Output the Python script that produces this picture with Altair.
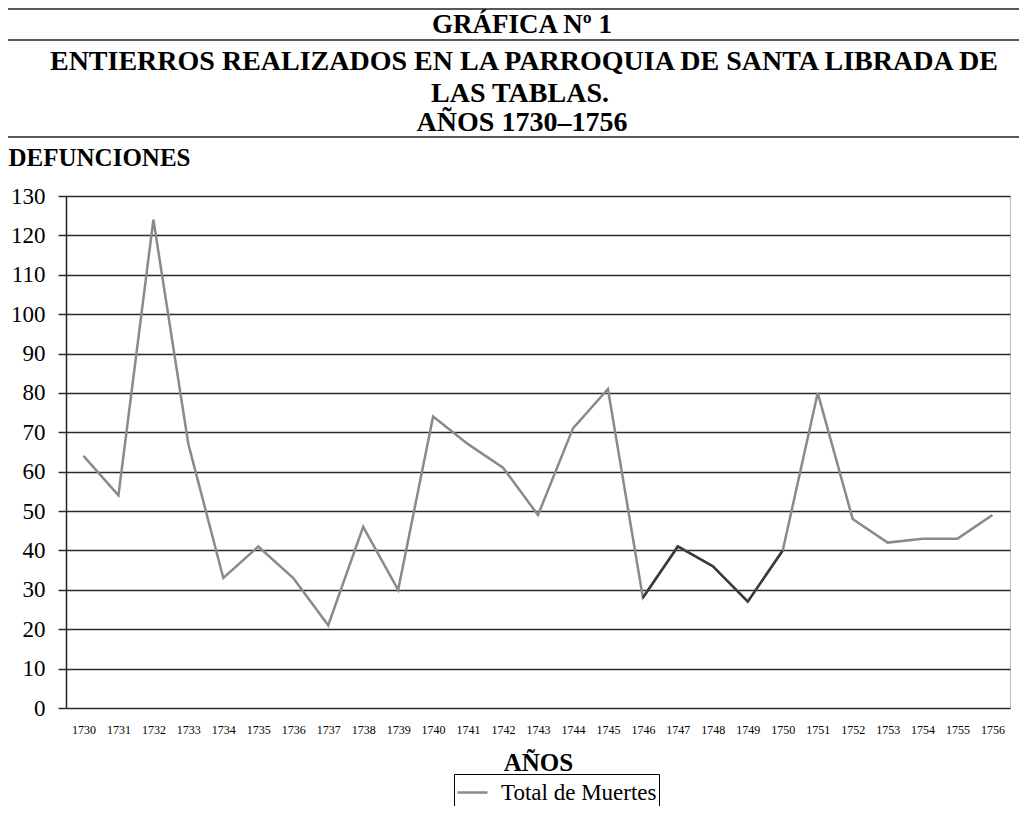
import altair as alt
import pandas as pd

# ---- data ----
anios = ["1730", "1731", "1732", "1733", "1734", "1735", "1736", "1737", "1738",
         "1739", "1740", "1741", "1742", "1743", "1744", "1745", "1746", "1747",
         "1748", "1749", "1750", "1751", "1752", "1753", "1754", "1755", "1756"]
muertes = [64, 54, 124, 67, 33, 41, 33, 21, 46, 30, 74, 67, 61, 49, 71, 81, 28,
           41, 36, 27, 40, 80, 48, 42, 43, 43, 49]
serie = "Total de Muertes"
tramo_oscuro = ["1746", "1747", "1748", "1749", "1750"]
y_ticks = [0, 10, 20, 30, 40, 50, 60, 70, 80, 90, 100, 110, 120, 130]

titulo = ["GRÁFICA Nº 1",
          "ENTIERROS REALIZADOS EN LA PARROQUIA DE SANTA LIBRADA DE",
          "LAS TABLAS.",
          "AÑOS 1730–1756"]
titulo_y = "DEFUNCIONES"
titulo_x = "AÑOS"

df = pd.DataFrame({"anio": anios, "muertes": muertes, "serie": [serie] * len(anios)})

FONT = "Liberation Serif"
W, H = 944, 512

x_enc = alt.X("anio:O", sort=anios,
              axis=alt.Axis(title=titulo_x, labelAngle=0, labelFont=FONT, labelFontSize=12,
                            labelColor="black", labelOverlap=False, ticks=False, tickSize=0,
                            labelPadding=16, domain=False, grid=False,
                            titleFont=FONT, titleFontSize=25, titleFontWeight="bold",
                            titleColor="black", titleY=54, titleBaseline="middle"))
y_enc = alt.Y("muertes:Q", scale=alt.Scale(domain=[0, 130], nice=False),
              axis=alt.Axis(values=y_ticks, grid=True, gridColor="#2a2a2a", gridWidth=1.5,
                            domain=True, domainColor="#222", domainWidth=1.5,
                            ticks=True, tickSize=8, tickColor="#2a2a2a", tickWidth=1.5,
                            labelPadding=13, labelAlign="right", labelBaseline="middle",
                            labelFont=FONT, labelFontSize=23, labelColor="black",
                            title=titulo_y, titleAngle=0, titleAlign="left", titleX=-58,
                            titleY=-39, titleBaseline="middle", titleFont=FONT,
                            titleFontSize=25, titleFontWeight="bold", titleColor="black"))

base = alt.Chart(df)

linea = base.mark_line(strokeWidth=2.5).encode(
    x=x_enc, y=y_enc,
    color=alt.Color("serie:N", scale=alt.Scale(range=["#8a8a8a"]),
                    legend=alt.Legend(orient="none", legendX=388, legendY=578, title=None,
                                      strokeColor="black", fillColor="white", padding=2,
                                      labelFont=FONT, labelFontSize=23, labelColor="black",
                                      labelLimit=400, labelOffset=12,
                                      symbolType="stroke", symbolSize=900,
                                      symbolStrokeWidth=2.5)))

oscuro = base.transform_filter(
    alt.FieldOneOfPredicate(field="anio", oneOf=tramo_oscuro)
).mark_line(strokeWidth=2.5, color="#3a3a3a").encode(x=x_enc, y=y_enc)

one = alt.Data(values=[{"k": 0}])


def texto(t, x, y, size, align="center"):
    return alt.Chart(one).mark_text(font=FONT, fontSize=size, fontWeight="bold",
                                    color="black", align=align, baseline="middle").encode(
        x=alt.value(x), y=alt.value(y), text=alt.value(t))


def hrule(y):
    return alt.Chart(one).mark_rule(color="#222", strokeWidth=1.5).encode(
        x=alt.value(-59), x2=alt.value(953), y=alt.value(y))


capas = [
    hrule(-187), hrule(-156), hrule(-59),
    alt.Chart(one).mark_rule(color="#444", strokeWidth=1.5).encode(
        x=alt.value(-59), y=alt.value(-188), y2=alt.value(614)),
    texto(titulo[0], 456, -171, 27),
    texto(titulo[1], 458, -134, 28),
    texto(titulo[2], 454, -102, 28),
    texto(titulo[3], 456, -73, 28),
    linea, oscuro,
]

chart = alt.layer(*capas).properties(
    width=W, height=H,
    autosize=alt.AutoSizeParams(type="none"),
    padding={"left": 58, "top": 188, "right": 9, "bottom": 98},
    background="white",
).configure_view(stroke="#bdbdbd", strokeWidth=1)

chart.save("out.html", embed_options={"renderer": "svg", "actions": False})
